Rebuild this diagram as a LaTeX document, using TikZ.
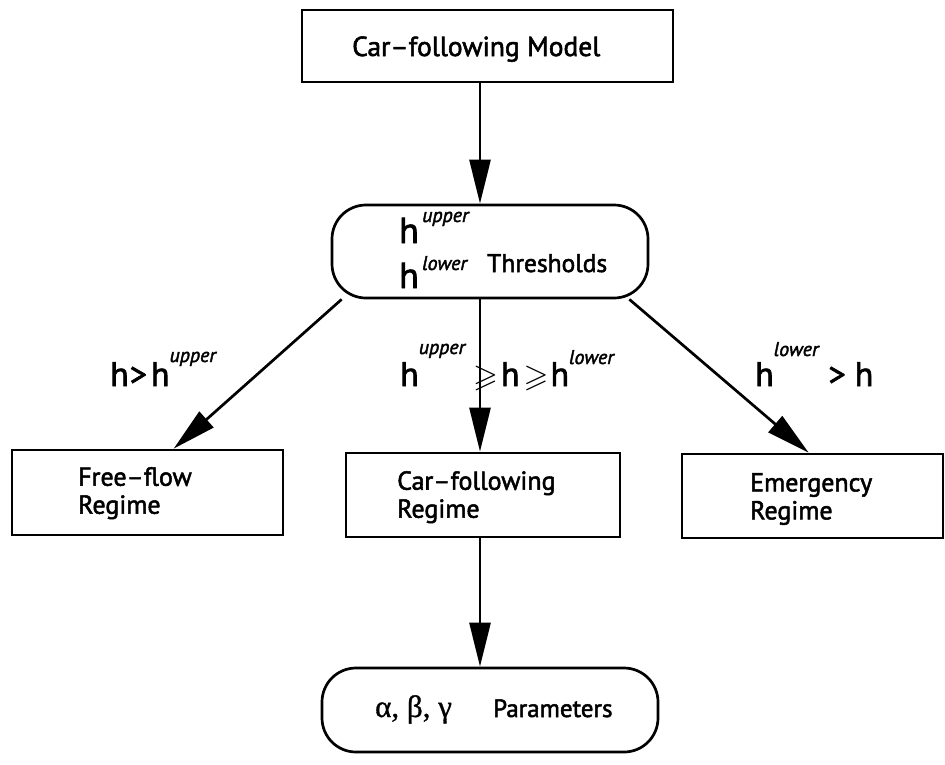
\documentclass[tikz,border=0pt]{standalone}
\usepackage{amssymb}
\usepackage{amsmath}
\usepackage{fontspec}
\setmainfont{PT Sans}[FakeBold=2]
\newfontfamily\grk{Liberation Serif}[FakeBold=1]
\usetikzlibrary{arrows.meta}
\tikzset{
  box/.style={draw, line width=2.7pt, inner sep=0pt},
  rbox/.style={box, rounded corners=34pt},
  txt/.style={inner sep=0pt, anchor=base west},
  arr/.style={line width=2.7pt, -{Triangle[length=44pt,width=21pt]}},
  lab/.style={inner sep=0pt, anchor=base west, font=\fontsize{34}{34}\selectfont},
}
\newcommand{\supr}[2]{\raisebox{#1}{\fontsize{20}{20}\selectfont\itshape #2}}
\newcommand{\gesl}{{\fontsize{32}{32}\selectfont$\boldsymbol{\geqslant}$}}
\begin{document}
\begin{tikzpicture}[x=1pt,y=-1pt]
\useasboundingbox (0,0) rectangle (945,764);
% boxes
\node[box, minimum width=371pt, minimum height=72pt] (cfm) at (487.5,46) {};
\node[txt, font=\fontsize{27.5}{27.5}\selectfont] (cfmt) at (352,56) {Car–following Model};

\node[rbox, minimum width=316pt, minimum height=93pt] (thr) at (490,251.5) {};
\node[txt, font=\fontsize{36}{36}\selectfont] (h1) at (399,243) {h};
\node[txt, font=\fontsize{20}{20}\selectfont\itshape] (up1) at (422,222) {upper};
\node[txt, font=\fontsize{36}{36}\selectfont] (h2) at (399,288) {h};
\node[txt, font=\fontsize{20}{20}\selectfont\itshape] (lo1) at (422,270) {lower};
\node[txt, font=\fontsize{25.5}{25.5}\selectfont] (thrt) at (487,272) {Thresholds};

\node[box, minimum width=271pt, minimum height=85pt] (ff) at (147.5,492.5) {};
\node[txt, font=\fontsize{26}{28}\selectfont, align=left, anchor=north west] (fft) at (78,467) {Free–flow\\Regime};

\node[box, minimum width=274pt, minimum height=84pt] (cfr) at (483,495) {};
\node[txt, font=\fontsize{26}{28}\selectfont, align=left, anchor=north west] (cfrt) at (397,471) {Car–following\\Regime};

\node[box, minimum width=261pt, minimum height=84pt] (em) at (812.5,496) {};
\node[txt, font=\fontsize{26}{28}\selectfont, align=left, anchor=north west] (emt) at (750,473) {Emergency\\Regime};

\node[rbox, minimum width=336pt, minimum height=84pt] (par) at (490,710) {};
\node[txt, font=\fontsize{31}{31}\selectfont\grk] (part) at (375,717) {α, β, γ};
\node[txt, font=\fontsize{25}{25}\selectfont] (part2) at (493,717) {Parameters};

% arrows
\draw[arr] ([xshift=-7.5pt]cfm.south) -- ([xshift=-7.5pt]cfm.south |- thr.north);
\draw[arr] ([xshift=-10pt]thr.south) -- ([xshift=-10pt]thr.south |- cfr.north);
\draw[arr] ([xshift=11pt]thr.south west) -- ([xshift=163pt]ff.north west);
\draw[arr] ([xshift=-20pt]thr.south east) -- ([xshift=128pt]em.north west);
\draw[arr] ([xshift=-3pt]cfr.south) -- ([xshift=-3pt]cfr.south |- par.north);

% labels
\node[lab] (l1) at (110,386) {h\kern1pt>\kern4pt h\supr{24pt}{upper}};
\node[lab] (l2) at (400,386) {h\supr{32pt}{upper}\kern8pt\gesl\kern3pt h\kern4pt\gesl\kern2pt h\supr{22pt}{lower}};
\node[lab] (l3) at (755,386) {h\supr{30pt}{lower}\kern10pt> h};
\end{tikzpicture}
\end{document}
